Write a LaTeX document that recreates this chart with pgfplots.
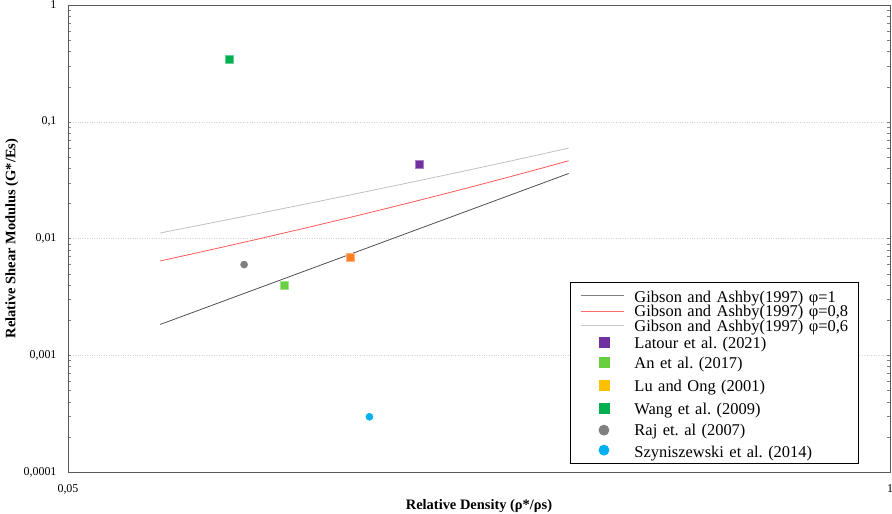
\documentclass[border=0pt]{standalone}
\usepackage{pgfplots}
\pgfplotsset{compat=1.18}
\usepackage{fontspec}
\setmainfont{Liberation Serif}
\frenchspacing
\definecolor{lineA}{HTML}{505050}
\definecolor{lineB}{HTML}{FF5858}
\definecolor{lineC}{HTML}{C0C0C0}
\definecolor{legA}{HTML}{808080}
\definecolor{legB}{HTML}{FF6A6A}
\definecolor{legC}{HTML}{C8C8C8}
\definecolor{cLatour}{HTML}{7030A0}
\definecolor{cAn}{HTML}{66D040}
\definecolor{cLuPlot}{HTML}{FF7F27}
\definecolor{cLuLeg}{HTML}{FFC000}
\definecolor{cWang}{HTML}{00B050}
\definecolor{cRaj}{HTML}{808080}
\definecolor{cSzy}{HTML}{00B0F0}
\pgfplotsset{
  linlegA/.style={legend image code/.code={\draw[draw=legA, line width=1.1bp] (0bp,0bp) -- (43bp,0bp);}},
  linlegB/.style={legend image code/.code={\draw[draw=legB, line width=1.1bp] (0bp,0bp) -- (43bp,0bp);}},
  linlegC/.style={legend image code/.code={\draw[draw=legC, line width=1.1bp] (0bp,0bp) -- (43bp,0bp);}},
  mrkleg/.style={legend image code/.code={\draw[##1] plot coordinates {(23bp,0bp)};}},
}
\begin{document}
\begin{tikzpicture}
\begin{axis}[
  name=ax,
  xmode=log, ymode=log,
  scale only axis,
  width=822bp, height=467bp,
  xmin=0.05, xmax=1, ymin=0.0001, ymax=1,
  xtick={0.05,1}, xticklabels={{0,05},{1}},
  ytick={0.0001,0.001,0.01,0.1,1},
  yticklabels={{0,0001},{0,001},{0,01},{0,1},{1}},
  minor tick num=0,
  major tick length=0pt,
  /pgf/number format/assume math mode=true,
  ticklabel style={font=\fontsize{12}{14}\selectfont},
  yticklabel style={xshift=-8bp},
  xticklabel style={yshift=-9bp},
  ymajorgrids,
  major grid style={dotted, gray!35, line width=0.5bp},
  axis line style={gray!70!black, line width=0.8bp},
  xlabel={\textbf{Relative Density (ρ*/ρs)}},
  ylabel={\textbf{Relative Shear Modulus (G*/Es)}},
  every axis x label/.style={at={(axis description cs:0.5,0)}, anchor=center, yshift=-34bp, font=\fontsize{14.5}{16}\selectfont},
  every axis y label/.style={at={(axis description cs:0,0.5)}, anchor=center, rotate=90, yshift=56bp, font=\fontsize{14.5}{16}\selectfont},
  legend style={
    at={(rel axis cs:0.6107,0.4069)}, anchor=north west,
    draw=black, line width=0.8bp, fill=white,
    inner xsep=10bp, inner ysep=4.5bp,
    column sep=10bp, row sep=0bp,
    cells={anchor=west},
    nodes={inner sep=0pt, text width=214bp},
    font=\fontsize{16.5}{18}\selectfont,
  },
]
% Gibson and Ashby (1997), phi = 1
\addplot[lineA, line width=0.8bp, forget plot] coordinates {
 (0.07,0.0018375) (0.08,0.0024) (0.09,0.0030375) (0.10,0.00375) (0.12,0.0054)
 (0.14,0.00735) (0.16,0.0096) (0.18,0.01215) (0.20,0.015) (0.22,0.01815)
 (0.25,0.0234375) (0.28,0.0294) (0.31,0.0360375)};
% phi = 0.8
\addplot[lineB, line width=0.8bp, forget plot] coordinates {
 (0.07,0.006426) (0.08,0.007536) (0.09,0.008694) (0.10,0.0099) (0.12,0.012456)
 (0.14,0.015204) (0.16,0.018144) (0.18,0.021276) (0.20,0.0246) (0.22,0.028116)
 (0.25,0.03375) (0.28,0.039816) (0.31,0.046314)};
% phi = 0.6
\addplot[lineC, line width=0.8bp, forget plot] coordinates {
 (0.07,0.0111615) (0.08,0.012864) (0.09,0.0145935) (0.10,0.01635) (0.12,0.019944)
 (0.14,0.023646) (0.16,0.027456) (0.18,0.031374) (0.20,0.0354) (0.22,0.039534)
 (0.25,0.0459375) (0.28,0.052584) (0.31,0.0594735)};
% data points
\addplot[only marks, mark=square*, mark size=4bp, draw=cLatour!60, fill=cLatour, forget plot] coordinates {(0.18,0.0432)};
\addplot[only marks, mark=square*, mark size=4bp, draw=cAn!60, fill=cAn, forget plot] coordinates {(0.11,0.00395)};
\addplot[only marks, mark=square*, mark size=4bp, draw=cLuPlot!60, fill=cLuPlot, forget plot] coordinates {(0.14,0.00687)};
\addplot[only marks, mark=square*, mark size=4bp, draw=cWang!60, fill=cWang, forget plot] coordinates {(0.09,0.344)};
\addplot[only marks, mark=*, mark size=3.6bp, draw=cRaj, fill=cRaj, forget plot] coordinates {(0.095,0.00598)};
\addplot[only marks, mark=*, mark size=3.6bp, draw=cSzy, fill=cSzy, forget plot] coordinates {(0.15,0.000297)};
% legend
\addlegendimage{linlegA}
\addlegendentry[text height=15.8bp, text depth=1.2bp]{Gibson and Ashby(1997) φ=1}
\addlegendimage{linlegB}
\addlegendentry[text height=13bp, text depth=1.5bp]{Gibson and Ashby(1997) φ=0,8}
\addlegendimage{linlegC}
\addlegendentry[text height=13.3bp, text depth=1.7bp]{Gibson and Ashby(1997) φ=0,6}
\addlegendimage{mrkleg, only marks, mark=square*, mark size=5bp, draw=cLatour, fill=cLatour}
\addlegendentry[text height=14.8bp, text depth=3.2bp]{Latour et al. (2021)}
\addlegendimage{mrkleg, only marks, mark=square*, mark size=5bp, draw=cAn, fill=cAn}
\addlegendentry[text height=16.8bp, text depth=5.2bp]{An et al. (2017)}
\addlegendimage{mrkleg, only marks, mark=square*, mark size=5bp, draw=cLuLeg, fill=cLuLeg}
\addlegendentry[text height=17.8bp, text depth=6.2bp]{Lu and Ong (2001)}
\addlegendimage{mrkleg, only marks, mark=square*, mark size=5bp, draw=cWang, fill=cWang}
\addlegendentry[text height=16.8bp, text depth=5.2bp]{Wang et al. (2009)}
\addlegendimage{mrkleg, only marks, mark=*, mark size=5bp, draw=cRaj, fill=cRaj}
\addlegendentry[text height=16.6bp, text depth=4.9bp]{Raj et. al (2007)}
\addlegendimage{mrkleg, only marks, mark=*, mark size=5bp, draw=cSzy, fill=cSzy}
\addlegendentry[text height=16.8bp, text depth=1.7bp]{Szyniszewski et al. (2014)}
\end{axis}
\pgfresetboundingbox
\path ([xshift=-68bp,yshift=-42bp]ax.south west) rectangle ([xshift=2bp,yshift=5bp]ax.north east);
\end{tikzpicture}
\end{document}
